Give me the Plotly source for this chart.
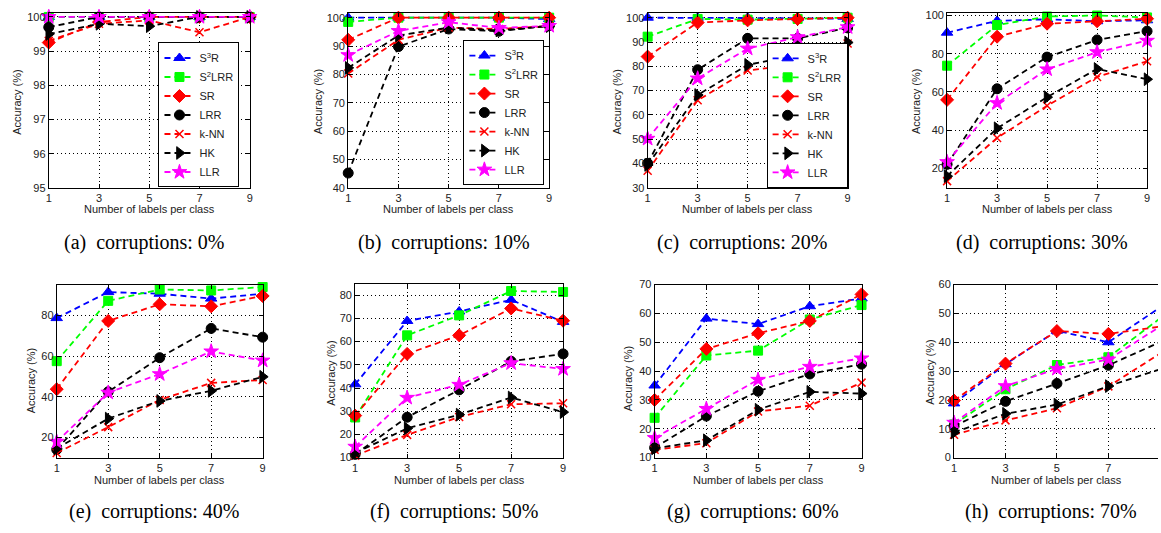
import plotly.graph_objects as go

W, H = 1161, 533

x_labels = [1, 3, 5, 7, 9]
panels = ["a", "b", "c", "d", "e", "f", "g", "h"]
captions = ["(a)\u00a0\u00a0corruptions: 0%", "(b)\u00a0\u00a0corruptions: 10%",
            "(c)\u00a0\u00a0corruptions: 20%", "(d)\u00a0\u00a0corruptions: 30%",
            "(e)\u00a0\u00a0corruptions: 40%", "(f)\u00a0\u00a0corruptions: 50%",
            "(g)\u00a0\u00a0corruptions: 60%", "(h)\u00a0\u00a0corruptions: 70%"]
method_names = ["S<sup>3</sup>R", "S<sup>2</sup>LRR", "SR", "LRR", "k-NN", "HK", "LLR"]

# accuracy (%) per corruption level (rows a..h), at 1,3,5,7,9 labels per class
S3R = [
    [100, 100, 100, 100, 100],
    [100, 100, 100, 100, 99.5],
    [100, 100, 100, 99.8, 99.5],
    [91, 97.2, 98, 97, 97.5],
    [78.7, 91.5, 90.7, 88.3, 90.7],
    [41.6, 68.9, 73, 78, 68.5],
    [35, 58.2, 56.3, 62.5, 65.2],
    [18.8, 32.4, 44, 40, 52],
]
S2LRR = [
    [100, 100, 100, 100, 100],
    [98.5, 100, 100, 100, 100],
    [92.2, 99.5, 99.2, 99.5, 100],
    [73.7, 95, 99.5, 100, 99],
    [57.5, 87.2, 92.8, 92.3, 94],
    [27.3, 62.7, 71.3, 81.8, 81.4],
    [23.8, 45.4, 47.1, 57.9, 62.9],
    [11.5, 23.7, 32.1, 34.8, 48.2],
]
SR = [
    [99.25, 99.85, 100, 100, 100],
    [92.2, 100, 100, 100, 100],
    [84, 98, 98.9, 99.5, 100],
    [55.8, 88.9, 95.7, 97, 98.3],
    [43.7, 77.3, 85.5, 84.5, 89.6],
    [28.1, 54.7, 62.7, 74.3, 69],
    [30, 47.7, 53.1, 57.4, 66.6],
    [19.8, 32.6, 43.9, 42.9, 45.4],
]
LRR = [
    [99.7, 100, 100, 100, 100],
    [45.2, 89.8, 96, 95.2, 97.2],
    [40.1, 78.6, 91.5, 91.5, 95.8],
    [22, 61.6, 78.2, 87.2, 91.8],
    [14, 42.4, 59.2, 73.6, 69.3],
    [11.4, 27.4, 39.2, 51.5, 54.7],
    [13.4, 24.4, 33, 39, 42.4],
    [10.9, 19.5, 25.7, 32, 40],
]
KNN = [
    [99.3, 99.8, 99.9, 99.55, 100],
    [80.3, 92.2, 96.5, 96, 97],
    [37, 66, 78.3, 80.8, 89.4],
    [13.2, 35.8, 52.7, 67.8, 76],
    [12.3, 25, 38.4, 46.8, 48.2],
    [10.8, 19.8, 27.5, 33, 33.4],
    [12.7, 15, 26, 28, 36],
    [7.9, 12.9, 17.1, 24.7, 36],
]
HK = [
    [99.5, 99.8, 99.73, 100, 100],
    [82.3, 93.7, 96.5, 95.5, 97],
    [39.4, 68.2, 80.6, 84.7, 89.8],
    [15.8, 40.9, 57.2, 72, 66.6],
    [14.5, 29.2, 37.9, 42.9, 49.8],
    [12, 22.6, 28.5, 35.9, 29.6],
    [13.2, 16, 26.6, 32.8, 32.2],
    [8.7, 15.2, 18.4, 24.8, 30.6],
]
LLR = [
    [100, 100, 100, 100, 100],
    [86.8, 95.3, 98.4, 96.4, 97.1],
    [50.2, 75, 87.3, 92, 96.1],
    [23.2, 54.1, 71.8, 80.8, 86.8],
    [17.8, 42, 51.1, 62.3, 57.8],
    [14.7, 35.8, 41.4, 50.7, 48.2],
    [16.8, 26.9, 37, 41.5, 44.4],
    [12.1, 24.8, 30.8, 34, 45.4],
]

y_ranges = [[95, 100.12], [40, 101.7], [30, 102], [9.7, 101.4],
            [10, 95.2], [10, 85], [10, 70], [0, 60]]
y_ticks = [[95, 96, 97, 98, 99, 100], [40, 50, 60, 70, 80, 90, 100],
           [30, 40, 50, 60, 70, 80, 90, 100], [20, 40, 60, 80, 100],
           [20, 40, 60, 80], [10, 20, 30, 40, 50, 60, 70, 80],
           [10, 20, 30, 40, 50, 60, 70], [0, 10, 20, 30, 40, 50, 60]]

# ---------------- layout geometry (pixels) ----------------
boxes = [  # x0, x1, ytop, ybottom
    (46, 248, 7, 186), (347, 549, 7, 186), (648, 849, 7, 186), (949, 1150, 7, 186),
    (54, 261, 285, 462), (354, 563, 284, 462), (655, 863, 285, 462), (956, 1161, 285, 462),
]
x_ranges = [[1, 9]] * 7 + [[1, 8.93]]
ytitle_pos = [(14, 98), (316, 98), (617, 98), (918, 98),
              (29, 383), (329, 376), (629, 381), (931, 375)]


def px(x):
    return x / W


def py(y):
    return 1 - y / H


styles = [
    dict(color="#0000FF", symbol="triangle-up", size=10),
    dict(color="#00FF00", symbol="square", size=9),
    dict(color="#FF0000", symbol="diamond", size=10),
    dict(color="#000000", symbol="circle", size=10),
    dict(color="#FF0000", symbol="x-thin-open", size=8),
    dict(color="#000000", symbol="triangle-right", size=11),
    dict(color="#FF00FF", symbol="star", size=11),
]
series = [S3R, S2LRR, SR, LRR, KNN, HK, LLR]

fig = go.Figure()
legend_ids = {0: "legend", 1: "legend2", 2: "legend3"}

for p in range(8):
    ax = "" if p == 0 else str(p + 1)
    for m, (data, st) in enumerate(zip(series, styles)):
        marker = dict(symbol=st["symbol"], size=st["size"], color=st["color"],
                      line=dict(color=st["color"], width=1.5 if m == 4 else 1))
        tr = go.Scatter(
            x=x_labels, y=data[p], mode="lines+markers",
            name=method_names[m],
            line=dict(color=st["color"], width=1.8, dash="6px,4px"),
            marker=marker, cliponaxis=False,
            xaxis="x" + ax, yaxis="y" + ax,
            showlegend=p in legend_ids,
        )
        if p in legend_ids:
            tr.legend = legend_ids[p]
        fig.add_trace(tr)

tick_font = dict(family="Liberation Sans, Arial, sans-serif", size=11, color="#222")
layout = dict(
    width=W, height=H, margin=dict(l=0, r=0, t=0, b=0),
    paper_bgcolor="white", plot_bgcolor="white", showlegend=True,
    font=tick_font,
)
annotations = []
for p in range(8):
    ax = "" if p == 0 else str(p + 1)
    x0, x1, yt, yb = boxes[p]
    layout["xaxis" + ax] = dict(
        domain=[px(x0), px(x1)], range=x_ranges[p], anchor="y" + ax,
        tickvals=x_labels, ticks="inside", ticklen=4, tickcolor="black",
        showline=True, linecolor="black", linewidth=1, mirror="ticks",
        showgrid=True, gridcolor="#000", gridwidth=1, griddash="1px,3px",
        zeroline=False, tickfont=tick_font,
    )
    layout["yaxis" + ax] = dict(
        domain=[py(yb), py(yt)], range=y_ranges[p], anchor="x" + ax,
        tickvals=y_ticks[p], ticks="inside", ticklen=4, tickcolor="black",
        showline=True, linecolor="black", linewidth=1,
        mirror=("ticks" if p != 7 else False),
        showgrid=True, gridcolor="#000", gridwidth=1, griddash="1px,3px",
        zeroline=False, tickfont=tick_font,
    )
    xc = (x0 + x1) / 2
    # x title
    annotations.append(dict(
        text="Number of labels per class", x=px(xc), y=py(208 if p < 4 else 485),
        xref="paper", yref="paper", showarrow=False, xanchor="center", yanchor="middle",
        font=dict(family="Liberation Sans, Arial, sans-serif", size=11, color="#222")))
    # y title
    tx, ty = ytitle_pos[p]
    annotations.append(dict(
        text="Accuracy (%)", x=px(tx), y=py(ty), textangle=-90,
        xref="paper", yref="paper", showarrow=False, xanchor="center", yanchor="middle",
        font=dict(family="Liberation Sans, Arial, sans-serif", size=11, color="#222")))
    # caption
    annotations.append(dict(
        text=captions[p], x=px(xc - 5), y=py(242 if p < 4 else 517),
        xref="paper", yref="paper", showarrow=False, xanchor="center", yanchor="middle",
        font=dict(family="Liberation Serif, Times New Roman, serif", size=20, color="black")))

leg_common = dict(bgcolor="white", bordercolor="black", borderwidth=1,
                  font=dict(family="Liberation Sans, Arial, sans-serif", size=11, color="#222"),
                  xref="paper", yref="paper")
layout["legend"] = dict(x=px(197), y=py(111.5), xanchor="center", yanchor="middle", **leg_common)
layout["legend2"] = dict(x=px(503.5), y=py(109), xanchor="center", yanchor="middle", **leg_common)
layout["legend3"] = dict(x=px(849), y=py(186), xanchor="right", yanchor="bottom", **leg_common)
layout["annotations"] = annotations
fig.update_layout(**layout)

fig.write_html("out.html")
